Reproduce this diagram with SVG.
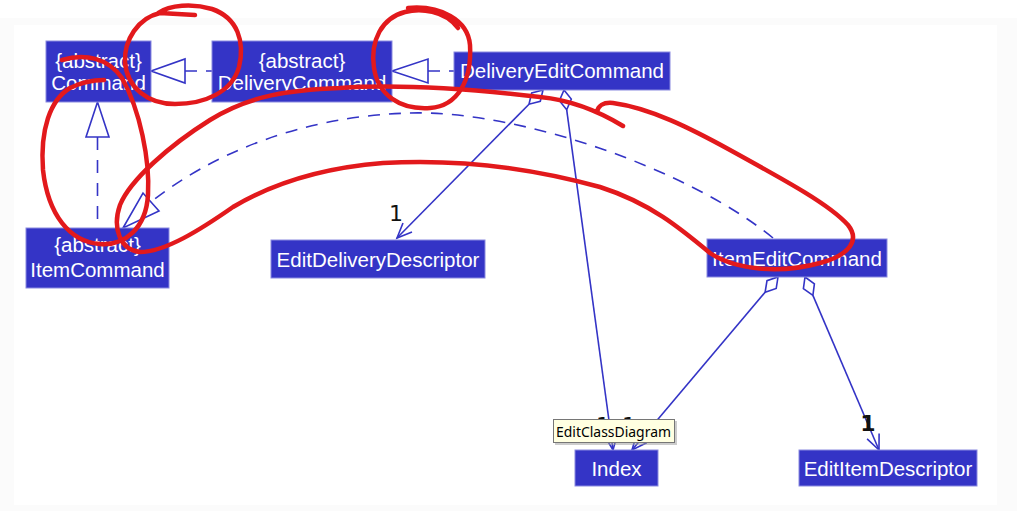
<svg xmlns="http://www.w3.org/2000/svg" width="1026" height="511" viewBox="0 0 1026 511">
<style>
.node rect{fill:#3434c6;stroke:#8a8ae0;stroke-width:1}
.node text{fill:#ffffff;font-family:"Liberation Sans",Arial,sans-serif;font-size:20.5px;text-anchor:middle}
.edge{fill:none;stroke:#3434c6;stroke-width:1.6}
.dash{stroke-dasharray:12,9}
.tri{fill:#ffffff;stroke:#3434c6;stroke-width:1.6}
.dia{fill:#ffffff;stroke:#3434c6;stroke-width:1.6}
.mult{font-family:"DejaVu Sans",sans-serif;font-size:22px;fill:#111111;text-anchor:middle}
.red{fill:none;stroke:#e2191c;stroke-width:4.5;stroke-linecap:round;stroke-linejoin:round}
</style>
<rect x="0" y="0" width="1026" height="511" fill="#ffffff"/>
<rect x="0" y="18" width="1017" height="493" fill="#fbfbfb"/>
<rect x="14" y="25" width="983" height="480" fill="#ffffff"/>

<g id="connectors">
  <line class="edge dash" x1="185" y1="71" x2="212" y2="71"/>
  <polygon class="tri" points="151,71 185,59 185,83"/>
  <line class="edge dash" x1="428" y1="71" x2="454" y2="71"/>
  <polygon class="tri" points="392,71 428,59 428,83"/>
  <line class="edge dash" x1="97.5" y1="137" x2="97.5" y2="228" style="stroke-dasharray:13,10"/>
  <polygon class="tri" points="97.5,102 86,137 109,137"/>
  <path class="edge dash" d="M773,238 C690,170 520,110 410,113 S210,155 151,202"/>
  <polygon class="tri" points="123,228 143,193 159,211"/>
  <polygon class="dia" points="543,90 540.3,101.3 529,104.2 531.7,92.9"/>
  <line class="edge" x1="529" y1="104.2" x2="397" y2="238"/>
  <polyline class="edge" points="412,232 397,238 403,223"/>
  <text class="mult" x="396" y="221">1</text>
  <polygon class="dia" points="564,90 571.3,99.1 566.7,109.8 559.4,100.7"/>
  <line class="edge" x1="566.7" y1="109.8" x2="613" y2="450"/>
  <polyline class="edge" points="617.4,434.2 613,450 604.6,436"/>
  <text class="mult" x="603" y="433">1</text>
  <polygon class="dia" points="778,277 776.2,288.5 765.1,292.3 767,280.7"/>
  <line class="edge" x1="765.1" y1="292.3" x2="632" y2="450"/>
  <polyline class="edge" points="646.7,442.7 632,450 636.7,434.3"/>
  <text class="mult" x="629" y="433">1</text>
  <polygon class="dia" points="805,277 814.4,283.8 812.9,295.4 803.4,288.6"/>
  <line class="edge" x1="812.9" y1="295.4" x2="879" y2="450"/>
  <polyline class="edge" points="879.1,433.6 879,450 867.1,438.8"/>
  <text class="mult" x="868" y="431" style="font-weight:bold">1</text>
</g>

<g id="Command" class="node">
  <rect x="46" y="41" width="105" height="61"/>
  <text x="98.5" y="68">{abstract}</text>
  <text x="98.5" y="90">Command</text>
</g>
<g id="DeliveryCommand" class="node">
  <rect x="212" y="41" width="180" height="61"/>
  <text x="302" y="68">{abstract}</text>
  <text x="302" y="90">DeliveryCommand</text>
</g>
<g id="DeliveryEditCommand" class="node">
  <rect x="454" y="52" width="216" height="38"/>
  <text x="562" y="78">DeliveryEditCommand</text>
</g>
<g id="ItemCommand" class="node">
  <rect x="26" y="228" width="143" height="60"/>
  <text x="97.5" y="252">{abstract}</text>
  <text x="97.5" y="277">ItemCommand</text>
</g>
<g id="EditDeliveryDescriptor" class="node">
  <rect x="271" y="240" width="214" height="38"/>
  <text x="378" y="267">EditDeliveryDescriptor</text>
</g>
<g id="ItemEditCommand" class="node">
  <rect x="707" y="239" width="180" height="38"/>
  <text x="797" y="266">ItemEditCommand</text>
</g>
<g id="Index" class="node">
  <rect x="575" y="450" width="83" height="36"/>
  <text x="616.5" y="476">Index</text>
</g>
<g id="EditItemDescriptor" class="node">
  <rect x="799" y="450" width="178" height="36"/>
  <text x="888" y="476">EditItemDescriptor</text>
</g>

<g id="tooltip">
  <rect x="555" y="421" width="122" height="24" fill="#9a9a9a" opacity="0.5"/>
  <rect x="553.5" y="419.5" width="121" height="23" fill="#ffffe1" stroke="#767676" stroke-width="1"/>
  <text x="556" y="437" font-family="'Noto Sans','Open Sans',sans-serif" font-size="15" fill="#000000" textLength="115" lengthAdjust="spacingAndGlyphs">EditClassDiagram</text>
</g>

<g id="annotations">
  <path class="red" d="M62,60 C85,53 108,58 122,78 C140,110 150,160 148,195 C146,228 125,246 100,244 C70,242 48,215 43,170 C40,130 50,100 70,88 C80,83 92,80 104,80"/>
  <path class="red" d="M195,15 L160,13 C138,18 124,40 125,62 C127,88 148,104 175,104 C205,104 232,92 239,67 C245,42 238,18 212,9 C192,3 170,5 158,13"/>
  <path class="red" d="M408,8 C440,5 468,20 470,45 C472,80 458,106 430,108 C400,110 378,95 374,68 C370,40 382,18 405,12 C420,8 445,10 458,28"/>
  <path class="red" d="M623,126 C600,112 570,100 540,97 C480,90 400,84 340,88 C290,90 250,95 210,120 C170,145 130,180 120,205 C112,228 120,250 140,252 C165,252 200,230 233,207 C270,185 320,168 383,163 C450,159 520,165 600,187 C650,203 680,228 710,253 C735,270 780,274 820,263 C850,255 860,240 848,225 C830,205 790,183 730,150 C690,128 650,108 613,103 C603,102 598,106 597,112"/>
</g>
</svg>
